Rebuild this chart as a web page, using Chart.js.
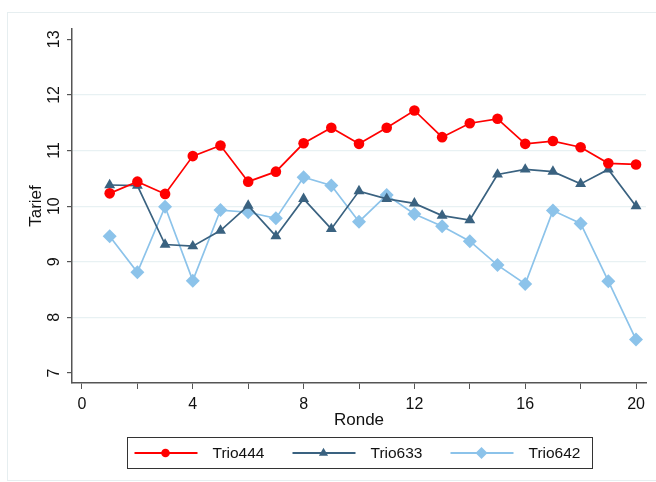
<!DOCTYPE html>
<html>
<head>
<meta charset="utf-8">
<script src="https://cdn.jsdelivr.net/npm/chart.js@4"></script>
<style>
  html, body { margin: 0; padding: 0; background: #fff; }
  #wrap { width: 656px; height: 482px; }
</style>
</head>
<body>
<div id="wrap"><canvas id="myChart"></canvas></div>
<script>
const rounds = [1, 2, 3, 4, 5, 6, 7, 8, 9, 10, 11, 12, 13, 14, 15, 16, 17, 18, 19, 20]
const trio444 = [10.23, 10.44, 10.22, 10.90, 11.09, 10.44, 10.62, 11.13, 11.41, 11.12, 11.41, 11.72, 11.24, 11.49, 11.57, 11.12, 11.17, 11.06, 10.77, 10.75]
const trio633 = [10.38, 10.37, 9.31, 9.28, 9.56, 10.01, 9.46, 10.13, 9.59, 10.27, 10.13, 10.05, 9.83, 9.75, 10.57, 10.66, 10.62, 10.40, 10.66, 10.00]
const trio642 = [9.46, 8.81, 9.99, 8.66, 9.93, 9.89, 9.78, 10.52, 10.37, 9.72, 10.20, 9.86, 9.64, 9.37, 8.94, 8.60, 9.92, 9.69, 8.65, 7.60]
const yTicks = [7, 8, 9, 10, 11, 12, 13]
const xTicks = [0, 2, 4, 6, 8, 10, 12, 14, 16, 18, 20]

const FONT = "'Liberation Sans', Arial, sans-serif"
const AXIS = '#555555'

const series = [
    { label: 'Trio444', values: trio444, color: '#ff0000', style: 'circle', radius: 5.3 },
    { label: 'Trio633', values: trio633, color: '#3a6280', style: 'triangle', radius: 6.3 },
    { label: 'Trio642', values: trio642, color: '#8cc3ea', style: 'rectRot', radius: 7 }
]

const chartData = {
    datasets: series.map(s => ({
        label: s.label,
        data: rounds.map((r, i) => ({ x: r, y: s.values[i] })),
        borderColor: s.color,
        backgroundColor: s.color,
        borderWidth: 1.7,
        pointStyle: s.style,
        pointRadius: s.radius,
        pointBorderWidth: 0,
        tension: 0
    }))
}

// stata-ish legend box under the plot + faint outer frame
const boxLegend = {
    id: 'boxLegend',
    afterDraw(chart) {
        const ctx = chart.ctx
        const area = chart.chartArea
        ctx.save()
        ctx.strokeStyle = '#e6eef0'
        ctx.lineWidth = 1
        ctx.strokeRect(7.5, 12.5, 660, 468)

        const cx = (area.left + area.right) / 2
        const w = 465, h = 31, top = 437
        const left = Math.round(cx - w / 2) + 0.5
        ctx.strokeStyle = '#333'
        ctx.strokeRect(left, top + 0.5, w, h)

        const itemW = 158
        const midY = top + h / 2 + 0.5
        ctx.font = '15.5px ' + FONT
        ctx.textBaseline = 'middle'
        series.forEach((s, i) => {
            const x0 = left + 7 + i * itemW
            ctx.strokeStyle = s.color
            ctx.lineWidth = 2
            ctx.beginPath()
            ctx.moveTo(x0, midY)
            ctx.lineTo(x0 + 63, midY)
            ctx.stroke()
            ctx.fillStyle = s.color
            Chart.helpers.drawPoint(ctx, { pointStyle: s.style, radius: s.radius - 1, borderWidth: 0, rotation: 0 }, x0 + 31, midY)
            ctx.fillStyle = '#111'
            ctx.fillText(s.label, x0 + 78, midY + 1)
        })
        ctx.restore()
    }
}

const chartOptions = {
    responsive: true,
    maintainAspectRatio: false,
    animation: false,
    layout: {
        padding: { left: 26, top: 29, right: 10, bottom: 54 }
    },
    plugins: {
        legend: { display: false },
        tooltip: { enabled: false }
    },
    scales: {
        x: {
            type: 'linear',
            min: -0.36,
            max: 20.36,
            afterBuildTicks: s => { s.ticks = xTicks.map(v => ({ value: v })) },
            afterFit: s => { s.height = 45 },
            border: { color: AXIS, width: 1.5 },
            grid: { drawOnChartArea: false, tickLength: 6, tickColor: AXIS },
            ticks: {
                color: '#111',
                font: { family: FONT, size: 16 },
                padding: 6,
                maxRotation: 0,
                callback: v => (v % 4 === 0 ? v : '')
            },
            title: {
                display: true,
                text: 'Ronde',
                color: '#111',
                font: { family: FONT, size: 17 },
                padding: { top: 0, bottom: -3 }
            }
        },
        y: {
            min: 6.82,
            max: 13.185,
            afterBuildTicks: s => { s.ticks = yTicks.map(v => ({ value: v })) },
            afterFit: s => { s.width = 46 },
            border: { color: AXIS, width: 1.5 },
            grid: {
                color: ctx => (ctx.tick && (ctx.tick.value === 7 || ctx.tick.value === 13) ? 'rgba(0,0,0,0)' : '#e8f1f3'),
                lineWidth: 1.2,
                tickLength: 5,
                tickColor: AXIS
            },
            ticks: {
                color: '#111',
                font: { family: FONT, size: 16 },
                minRotation: 90,
                maxRotation: 90,
                crossAlign: 'center',
                padding: 4
            },
            title: {
                display: true,
                text: 'Tarief',
                color: '#111',
                font: { family: FONT, size: 17 },
                padding: 0
            }
        }
    }
}

new Chart('myChart', {
    type: 'line',
    data: chartData,
    options: chartOptions,
    plugins: [boxLegend]
})
</script>
</body>
</html>
